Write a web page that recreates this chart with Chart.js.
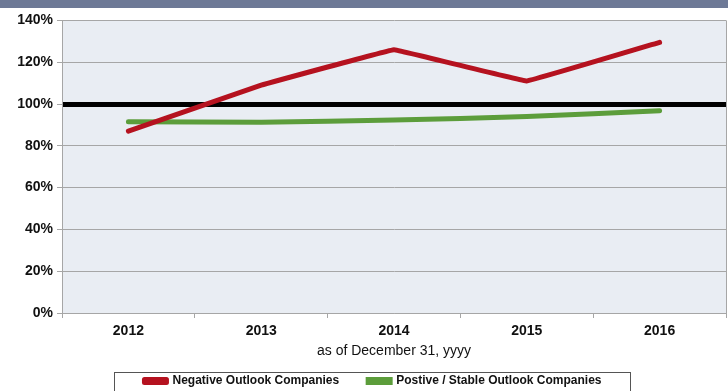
<!DOCTYPE html>
<html>
<head>
<meta charset="utf-8">
<script src="https://cdn.jsdelivr.net/npm/chart.js@4/dist/chart.umd.min.js"></script>
<style>
  html, body { margin: 0; padding: 0; background: #fff; }
  #banner { width: 728px; height: 8px; background: #6d7996; }
  #wrap { width: 728px; height: 383px; position: relative; }
</style>
</head>
<body>
<div id="banner"></div>
<div id="wrap"><canvas id="chart"></canvas></div>
<script>
var years      = ['2012', '2013', '2014', '2015', '2016'];
var negative   = [87, 109, 126, 111, 129.5];
var positive   = [91.5, 91.3, 92.3, 94, 96.8];
var yTicks     = [0, 20, 40, 60, 80, 100, 120, 140];
var threshold  = 100;
var legendPad  = 9;

// plot background + right border + legend frame
var decor = {
    id: 'decor',
    afterLayout: function(chart) {
        // nudge legend a bit right and down, like the original
        var lg = chart.legend, dx = 10, dy = 6;
        lg.left += dx; lg.right += dx; lg.top += dy; lg.bottom += dy;
    },
    beforeDraw: function(chart) {
        var a = chart.chartArea, c = chart.ctx;
        c.save();
        c.fillStyle = '#e9edf3';
        c.fillRect(a.left, a.top, a.right - a.left, a.bottom - a.top);
        c.restore();
    },
    afterDraw: function(chart) {
        var a = chart.chartArea, c = chart.ctx, lg = chart.legend;
        c.save();
        c.strokeStyle = '#a6a6a6';
        c.lineWidth = 1;
        c.beginPath();
        c.moveTo(a.right + 0.5, a.top);
        c.lineTo(a.right + 0.5, a.bottom);
        c.stroke();
        var hb = lg.legendHitBoxes;
        if (hb && hb.length) {
            var first = hb[0], last = hb[hb.length - 1];
            var x0 = first.left - 30, x1 = last.left + last.width + 29;
            var y0 = lg.top + legendPad - 3;
            c.strokeStyle = '#555';
            c.strokeRect(Math.round(x0) + 0.5, Math.round(y0) + 0.5, Math.round(x1 - x0), chart.height - y0 + 5);
        }
        c.restore();
    }
};

var ctx = document.getElementById('chart');
var chart = new Chart(ctx, {
    type: 'line',
    data: {
        labels: years,
        datasets: [
            {
                label: 'Negative Outlook Companies',
                data: negative,
                borderColor: '#b5121f',
                backgroundColor: '#b5121f',
                borderWidth: 5,
                pointRadius: 0,
                tension: 0.03,
                borderCapStyle: 'round',
                borderJoinStyle: 'round',
                fill: false
            },
            {
                label: 'Postive / Stable Outlook Companies',
                data: positive,
                borderColor: '#5c9d3b',
                backgroundColor: '#5c9d3b',
                borderWidth: 5,
                pointRadius: 0,
                tension: 0.3,
                borderCapStyle: 'round',
                fill: false
            }
        ]
    },
    options: {
        responsive: true,
        maintainAspectRatio: false,
        animation: false,
        layout: { padding: { left: 0, right: 2, top: 12, bottom: 0 } },
        plugins: {
            tooltip: { enabled: false },
            legend: {
                position: 'bottom',
                labels: {
                    color: '#111',
                    font: { family: 'Liberation Sans, Arial', size: 12, weight: 'bold' },
                    boxWidth: 22,
                    boxHeight: 3,
                    padding: legendPad,
                    generateLabels: function(chart) {
                        var items = Chart.defaults.plugins.legend.labels.generateLabels(chart);
                        items.forEach(function(it, i) {
                            if (i < items.length - 1) it.text = it.text + '      ';
                        });
                        return items;
                    }
                }
            }
        },
        scales: {
            x: {
                offset: true,
                grid: {
                    offset: true,
                    drawOnChartArea: false,
                    drawTicks: true,
                    tickLength: 5,
                    color: '#a6a6a6'
                },
                border: { color: '#a6a6a6', width: 1 },
                ticks: {
                    color: '#111',
                    padding: 5,
                    font: { family: 'Liberation Sans, Arial', size: 14, weight: 'bold' }
                },
                title: {
                    display: true,
                    text: 'as of December 31, yyyy',
                    color: '#111',
                    padding: { top: 0, bottom: 0 },
                    font: { family: 'Liberation Sans, Arial', size: 14 }
                },
                afterFit: function(scale) { scale.height = 47; }
            },
            y: {
                min: 0,
                max: 140,
                afterBuildTicks: function(scale) {
                    scale.ticks = yTicks.map(function(v) { return { value: v }; });
                },
                grid: {
                    color: function(c) { return c.tick && c.tick.value === threshold ? '#000' : '#a6a6a6'; },
                    lineWidth: function(c) { return c.tick && c.tick.value === threshold ? 5 : 1; },
                    tickColor: '#a6a6a6',
                    tickWidth: 1,
                    tickLength: 5
                },
                border: { color: '#a6a6a6', width: 1 },
                ticks: {
                    color: '#111',
                    padding: 4,
                    font: { family: 'Liberation Sans, Arial', size: 14, weight: 'bold' },
                    callback: function(v) { return v + '%'; }
                },
                afterFit: function(scale) { scale.width = 62; }
            }
        }
    },
    plugins: [decor]
});
</script>
</body>
</html>
